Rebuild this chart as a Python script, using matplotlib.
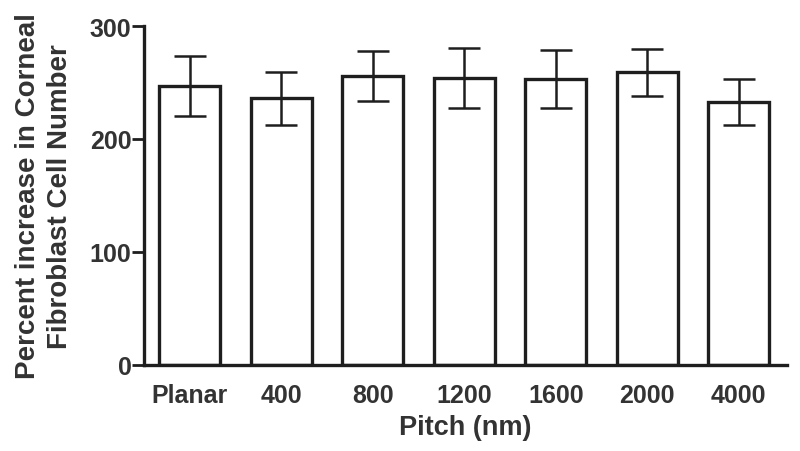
import matplotlib
matplotlib.use("Agg")
import matplotlib.pyplot as plt
import numpy as np

# values
pitch = ["Planar", "400", "800", "1200", "1600", "2000", "4000"]
mean_increase = [247, 236, 256, 254, 253, 259, 233]
sem = [26.5, 23.5, 22, 26.5, 25.5, 20.5, 20.5]

plt.rcParams['font.family'] = ['Liberation Sans', 'DejaVu Sans']
plt.rcParams['font.weight'] = 'bold'

ink = '#1e1e1e'
txt = '#333333'

fig = plt.figure(figsize=(8, 4.52), dpi=100)
ax = fig.add_axes([0.18, 0.191, 0.804, 0.749])

x = np.arange(len(pitch))
ax.bar(x, mean_increase, width=0.67, color='white', edgecolor=ink, linewidth=2.4, zorder=2)
ax.errorbar(x, mean_increase, yerr=sem, fmt='none', ecolor=ink, elinewidth=1.8,
            capsize=11.5, capthick=1.8, zorder=3)

ax.set_xlim(-0.5, 6.53)
ax.set_ylim(0, 300)
ax.set_yticks([0, 100, 200, 300])
ax.set_xticks(x)
ax.set_xticklabels(pitch)

for side in ['top', 'right']:
    ax.spines[side].set_visible(False)
for side in ['left', 'bottom']:
    ax.spines[side].set_linewidth(2.4)
    ax.spines[side].set_color(ink)

ax.tick_params(axis='y', direction='out', length=9, width=2, color=ink,
               labelsize=18, labelcolor=txt, pad=0)
ax.tick_params(axis='x', length=0, labelsize=18, labelcolor=txt, pad=13)

ax.set_xlabel("Pitch (nm)", fontsize=19.5, fontweight='bold', color=txt, labelpad=5)
ax.set_ylabel("Percent increase in Corneal\nFibroblast Cell Number", fontsize=20,
              fontweight='bold', color=txt, labelpad=12, linespacing=1.3)

fig.savefig("out.png", dpi=100)
